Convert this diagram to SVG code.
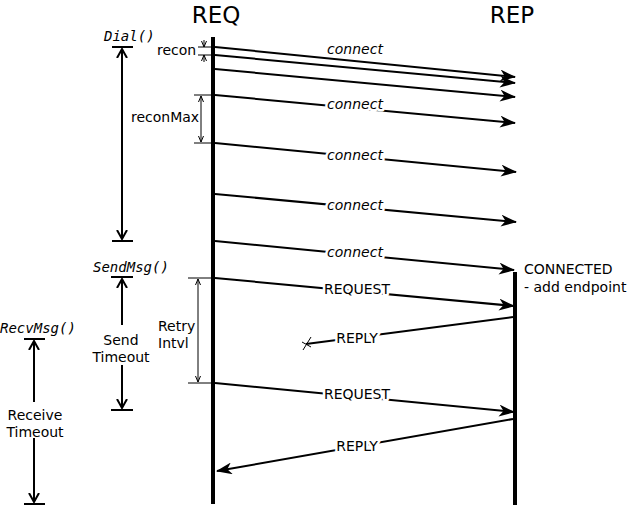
<svg xmlns="http://www.w3.org/2000/svg" width="628" height="510" viewBox="0 0 628 510">
<defs>
<style>
text{font-family:"DejaVu Sans",sans-serif;font-size:14px;fill:#000}
.title{font-size:23px;text-anchor:middle}
.fn{font-family:"DejaVu Sans Mono",monospace;font-style:italic;font-size:14px}
.lbl{text-anchor:middle;stroke:#fff;stroke-width:5px;paint-order:stroke;stroke-linejoin:round}
.it{font-style:italic}
.mid{text-anchor:middle}
.msg{stroke:#000;stroke-width:2;fill:none;marker-end:url(#ah)}
.life{stroke:#000;stroke-width:4}
.bar{stroke:#000;stroke-width:2}
.span{stroke:#000;stroke-width:2;fill:none}
.dim{stroke:#000;stroke-width:1;fill:none}
</style>
<marker id="ah" viewBox="0 0 16 12" refX="15" refY="6" markerWidth="16" markerHeight="12" orient="auto" markerUnits="userSpaceOnUse"><path d="M0,0 L16,6 L0,12 L4.5,6 Z" fill="#000"/></marker>
<marker id="va" viewBox="0 0 10 12" refX="9" refY="6" markerWidth="10" markerHeight="12" orient="auto" markerUnits="userSpaceOnUse"><path d="M0,1 L9,6 L0,11" fill="none" stroke="#000" stroke-width="2"/></marker>
<marker id="sa" viewBox="0 0 6 6" refX="6" refY="3" markerWidth="6" markerHeight="6" orient="auto" markerUnits="userSpaceOnUse"><path d="M0,0.5 L6,3 L0,5.5" fill="none" stroke="#000" stroke-width="1"/></marker>
</defs>
<g id="REQ">
<text class="title" x="216" y="23">REQ</text>
<line class="life" x1="213" y1="37" x2="213" y2="504"/>
</g>
<g id="REP">
<text class="title" x="512" y="23">REP</text>
<line class="life" x1="515" y1="272" x2="515" y2="505"/>
<text x="524" y="274">CONNECTED</text>
<text x="524" y="292">- add endpoint</text>
</g>
<g id="dial">
<text class="fn" x="104" y="41">Dial()</text>
<line class="bar" x1="112" y1="47" x2="133" y2="47"/>
<line class="bar" x1="112" y1="241" x2="133" y2="241"/>
<line class="span" x1="122" y1="144" x2="122" y2="49" marker-end="url(#va)"/>
<line class="span" x1="122" y1="144" x2="122" y2="239" marker-end="url(#va)"/>
</g>
<g id="recon">
<text x="157" y="55">recon</text>
<line class="dim" x1="198" y1="47" x2="211" y2="47"/>
<line class="dim" x1="198" y1="55" x2="211" y2="55"/>
<line class="dim" x1="204" y1="40" x2="204" y2="47" marker-end="url(#sa)"/>
<line class="dim" x1="204" y1="62" x2="204" y2="55" marker-end="url(#sa)"/>
</g>
<g id="reconMax">
<text x="131" y="122">reconMax</text>
<line class="dim" x1="194" y1="95" x2="211" y2="95"/>
<line class="dim" x1="194" y1="143" x2="211" y2="143"/>
<line class="dim" x1="201" y1="119" x2="201" y2="96" marker-end="url(#sa)"/>
<line class="dim" x1="201" y1="119" x2="201" y2="142" marker-end="url(#sa)"/>
</g>
<g id="sendmsg">
<text class="fn" x="93" y="272">SendMsg()</text>
<line class="bar" x1="111" y1="277" x2="133" y2="277"/>
<line class="bar" x1="111" y1="410" x2="133" y2="410"/>
<line class="span" x1="122" y1="325" x2="122" y2="279" marker-end="url(#va)"/>
<line class="span" x1="122" y1="365" x2="122" y2="408" marker-end="url(#va)"/>
<text class="mid" x="121" y="345">Send</text>
<text class="mid" x="121" y="362">Timeout</text>
</g>
<g id="retry">
<text x="158" y="331">Retry</text>
<text x="158" y="348">Intvl</text>
<line class="dim" x1="188" y1="278" x2="211" y2="278"/>
<line class="dim" x1="188" y1="383" x2="211" y2="383"/>
<line class="dim" x1="198" y1="330" x2="198" y2="279" marker-end="url(#sa)"/>
<line class="dim" x1="198" y1="330" x2="198" y2="382" marker-end="url(#sa)"/>
</g>
<g id="recvmsg">
<text class="fn" x="0" y="333">RecvMsg()</text>
<line class="bar" x1="24" y1="339" x2="45" y2="339"/>
<line class="bar" x1="24" y1="504" x2="45" y2="504"/>
<line class="span" x1="34" y1="402" x2="34" y2="341" marker-end="url(#va)"/>
<line class="span" x1="34" y1="438" x2="34" y2="502" marker-end="url(#va)"/>
<text class="mid" x="35" y="420">Receive</text>
<text class="mid" x="35" y="437">Timeout</text>
</g>
<g id="connectors">
<line class="msg" x1="215" y1="47" x2="515" y2="77"/>
<line class="msg" x1="215" y1="55" x2="515" y2="83"/>
<line class="msg" x1="215" y1="69" x2="515" y2="97"/>
<line class="msg" x1="215" y1="95" x2="515" y2="123"/>
<line class="msg" x1="215" y1="143" x2="516" y2="172"/>
<line class="msg" x1="215" y1="194" x2="516" y2="222"/>
<line class="msg" x1="215" y1="241" x2="514" y2="270"/>
<line class="msg" x1="215" y1="278" x2="514" y2="306"/>
<line class="span" x1="513" y1="317" x2="306" y2="344"/>
<path d="M303,350 L311,337 M302,342 L311,347" class="dim" stroke-width="2"/>
<line class="msg" x1="215" y1="383" x2="514" y2="412"/>
<line class="msg" x1="513" y1="419" x2="217" y2="471"/>
<text class="lbl it" x="355" y="54">connect</text>
<text class="lbl it" x="355" y="109">connect</text>
<text class="lbl it" x="355" y="160">connect</text>
<text class="lbl it" x="355" y="210">connect</text>
<text class="lbl it" x="355" y="257">connect</text>
<text class="lbl" x="357" y="294">REQUEST</text>
<text class="lbl" x="357" y="343">REPLY</text>
<text class="lbl" x="357" y="399">REQUEST</text>
<text class="lbl" x="357" y="451">REPLY</text>
</g>
</svg>
